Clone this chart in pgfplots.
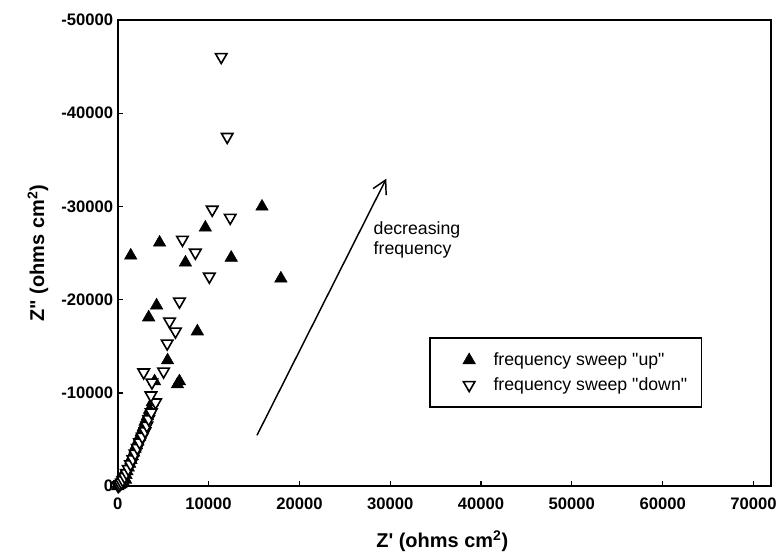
\documentclass[border=0pt]{standalone}
\usepackage{fontspec}
\setmainfont{Liberation Sans}[Ligatures=TeXOff]
\usepackage{pgfplots}
\pgfplotsset{compat=1.18}
\usetikzlibrary{arrows.meta}
\pgfplotsset{mylegimg/.style={legend image code/.code={\path (-20pt,0pt) (15.8pt,0pt); \draw[##1] plot coordinates {(0pt,0pt)};}}}
\begin{document}
\begin{tikzpicture}
\begin{axis}[
  scale only axis, width=490.5pt, height=350.25pt,
  xmin=0, xmax=71900, ymin=-50000, ymax=0, y dir=reverse,
  scaled ticks=false,
  clip=false,
  axis line style={line width=1.3pt},
  tick align=inside, xtick pos=left, ytick pos=left,
  major tick length=4pt, tick style={line width=1pt, black},
  xtick={0,10000,20000,30000,40000,50000,60000,70000},
  xticklabels={0,10000,20000,30000,40000,50000,60000,70000},
  ytick={-50000,-40000,-30000,-20000,-10000,0},
  yticklabels={-50000,-40000,-30000,-20000,-10000,0},
  ticklabel style={font=\fontsize{12.5}{14}\selectfont\bfseries},
  xticklabel style={yshift=-5pt},
  xlabel={Z' (ohms cm\textsuperscript{2})},
  ylabel={Z" (ohms cm\textsuperscript{2})},
  label style={font=\fontsize{15}{18}\selectfont\bfseries},
  xlabel style={at={(axis description cs:0.497,-0.1178)}, anchor=center},
  ylabel style={at={(axis description cs:-0.1223,0.5)}, anchor=center},
  legend style={at={(0.477,0.319)}, anchor=north west, draw=black, line width=1pt,
    font=\fontsize{13.3}{15}\selectfont, inner xsep=9pt, inner ysep=9pt, row sep=3.5pt},
  legend cell align=left,
]
\addplot[only marks, mark=triangle*, mark size=5.4pt, mark options={fill=black, draw=black, line width=0.4pt}, mylegimg]
coordinates {
(0,0) (60,-250) (150,-120) (250,-400) (350,-200) (450,-600) (600,-450) (700,-900) (850,-700)
(300,-800) (900,-1200) (1000,-1600) (1150,-2000) (1300,-2400) (1450,-2800) (1600,-3200)
(1750,-3600) (1900,-4000) (2050,-4400) (2200,-4800) (2400,-5300) (2600,-5800) (2800,-6300)
(3000,-6900) (3250,-7500) (3500,-8200) (3800,-9000)
(4050,-11240) (6790,-11240) (6570,-10920) (5480,-13490) (8760,-16600)
(3400,-18100) (4270,-19380) (7450,-23980) (1424,-24730) (12490,-24500)
(4600,-26120) (9640,-27730) (15880,-29980) (17960,-22270)
};
\addlegendentry{frequency sweep "up"}
\addplot[only marks, mark=triangle*, mark size=5pt, mark options={rotate=180, fill=white, draw=black, line width=1.2pt}, mylegimg]
coordinates {
(40,-30) (120,-100) (250,-220) (400,-400) (550,-650) (750,-1000) (950,-1400) (1150,-1850)
(1400,-2350) (1650,-2900) (1900,-3500) (2150,-4100) (2400,-4700) (2700,-5300) (3000,-5900)
(3200,-6500) (3400,-7200) (3690,-7920) (4160,-8990) (3650,-9740) (3760,-11130)
(2850,-12210) (5040,-12310) (5440,-15310) (6350,-16600) (5700,-17670) (6790,-19810)
(10080,-22480) (8540,-25050) (7120,-26440) (12380,-28800) (10400,-29660)
(12050,-37470) (11390,-46040)
};
\addlegendentry{frequency sweep "down"}
\draw[line width=1.1pt, -{Straight Barb[length=10pt,width=11pt]}] (axis cs:15330,-5460) -- (axis cs:29570,-32980);
\node[anchor=north west, align=left, font=\fontsize{13.3}{15}\selectfont, inner sep=0pt] at (axis cs:28150,-28370) {decreasing\\frequency};
\end{axis}
\path (current axis.south west) ++(-88.5pt,-52.5pt) coordinate (bl);
\path (current axis.north east) ++(6.75pt,15pt) coordinate (tr);
\path (bl) rectangle (tr);
\end{tikzpicture}
\end{document}
